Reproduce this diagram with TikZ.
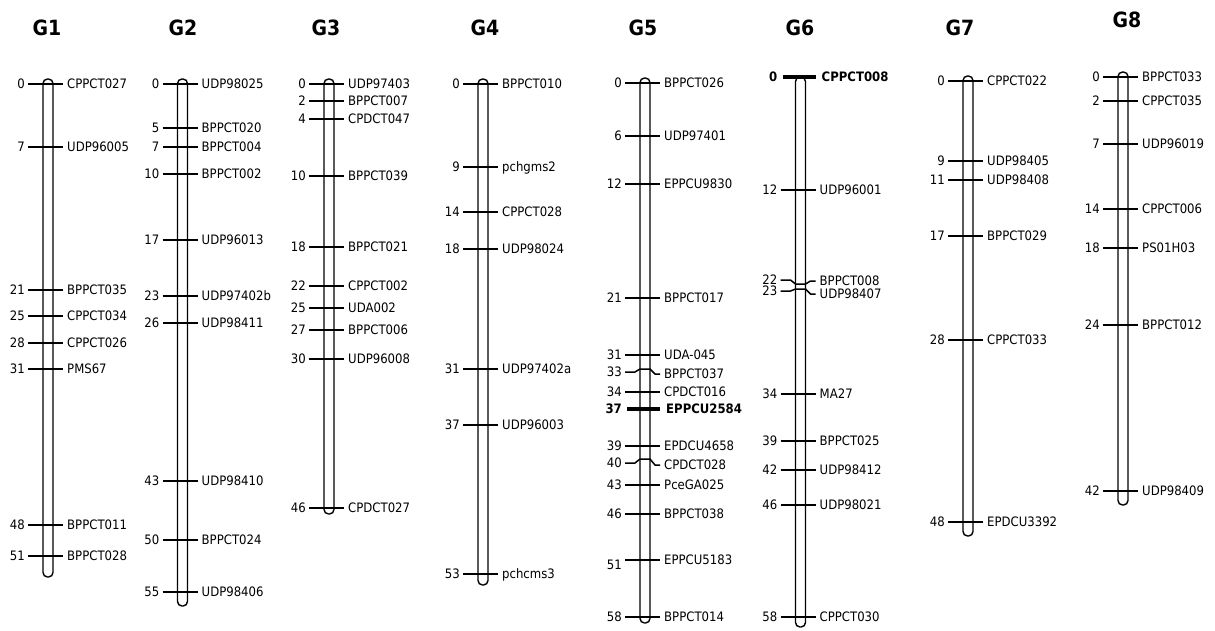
\documentclass[tikz,border=0pt]{standalone}
\usepackage{fontspec}
\setmainfont{DejaVu Sans}[FakeStretch=0.9]
\newcommand\lbl{\fontsize{13}{15}\selectfont}
\newcommand\hdf{\fontsize{21}{24}\selectfont\bfseries}
\tikzset{
  mtick/.style={line width=1.5pt, line join=round},
  btick/.style={line width=4pt},
  chrom/.style={draw, line width=1.4pt, fill=white, rounded corners=4.5pt},
  numl/.style={anchor=base east, inner sep=0pt, font=\lbl},
  mkl/.style={anchor=base west, inner sep=0pt, font=\lbl},
  head/.style={anchor=base, inner sep=0pt, font=\hdf}
}
% #1 centre x, #2 true y, #3 left y, #4 right y, #5 number, #6 name
\newcommand\mk[6]{%
  \draw[mtick] ({#1-20},{#3}) -- ({#1-10},{#3}) -- ({#1-5},{#2}) -- ({#1+5},{#2}) -- ({#1+10},{#4}) -- ({#1+15},{#4});
  \node[numl] (n-#6) at ({#1-23},{#3+4.7}) {#5};
  \node[mkl] (l-#6) at ({#1+19},{#4+4.7}) {#6};
}
\newcommand\mks[4]{\mk{#1}{#2}{#2}{#2}{#3}{#4}}
% straight tick, number text moved down by #5
\newcommand\mkd[5]{%
  \draw[mtick] ({#1-20},{#2}) -- ({#1+15},{#2});
  \node[numl] (n-#4) at ({#1-23},{#2+#5+4.7}) {#3};
  \node[mkl] (l-#4) at ({#1+19},{#2+4.7}) {#4};
}
\newcommand\mkb[4]{%
  \draw[btick] ({#1-18},{#2}) -- ({#1+15},{#2});
  \node[numl,font=\lbl\bfseries] (n-#4) at ({#1-23},{#2+4.7}) {#3};
  \node[mkl,font=\lbl\bfseries] (l-#4) at ({#1+21},{#2+4.7}) {#4};
}
\newcommand\chr[4]{% name, centre, top, bottom
  \draw[chrom] ({#2-5},{#3}) rectangle ({#2+5},{#4});
}
\begin{document}
\begin{tikzpicture}[x=1pt,y=-1pt]
\useasboundingbox[fill=white] (0,0) rectangle (1215,630);
% headings
\node[head] (h1) at (47,35) {G1};
\node[head] (h2) at (183,35) {G2};
\node[head] (h3) at (326,35) {G3};
\node[head] (h4) at (485,35) {G4};
\node[head] (h5) at (643,35) {G5};
\node[head] (h6) at (800,35) {G6};
\node[head] (h7) at (960,35) {G7};
\node[head] (h8) at (1127,27) {G8};
% G1
\chr{G1}{48}{79}{577}
\mks{48}{84}{0}{CPPCT027}
\mks{48}{147}{7}{UDP96005}
\mks{48}{290}{21}{BPPCT035}
\mks{48}{316}{25}{CPPCT034}
\mks{48}{343}{28}{CPPCT026}
\mks{48}{369}{31}{PMS67}
\mks{48}{525}{48}{BPPCT011}
\mks{48}{556}{51}{BPPCT028}
% G2
\chr{G2}{182.5}{79}{606}
\mks{182.5}{84}{0}{UDP98025}
\mks{182.5}{128}{5}{BPPCT020}
\mks{182.5}{147}{7}{BPPCT004}
\mks{182.5}{174}{10}{BPPCT002}
\mks{182.5}{240}{17}{UDP96013}
\mks{182.5}{296}{23}{UDP97402b}
\mks{182.5}{323}{26}{UDP98411}
\mks{182.5}{481}{43}{UDP98410}
\mks{182.5}{540}{50}{BPPCT024}
\mks{182.5}{592}{55}{UDP98406}
% G3
\chr{G3}{329}{79}{514}
\mks{329}{84}{0}{UDP97403}
\mks{329}{101}{2}{BPPCT007}
\mks{329}{119}{4}{CPDCT047}
\mks{329}{176}{10}{BPPCT039}
\mks{329}{247}{18}{BPPCT021}
\mks{329}{286}{22}{CPPCT002}
\mks{329}{308}{25}{UDA002}
\mks{329}{330}{27}{BPPCT006}
\mks{329}{359}{30}{UDP96008}
\mks{329}{508}{46}{CPDCT027}
% G4
\chr{G4}{483}{79}{585}
\mks{483}{84}{0}{BPPCT010}
\mks{483}{167}{9}{pchgms2}
\mks{483}{212}{14}{CPPCT028}
\mks{483}{249}{18}{UDP98024}
\mks{483}{369}{31}{UDP97402a}
\mks{483}{425}{37}{UDP96003}
\mks{483}{574}{53}{pchcms3}
% G5
\chr{G5}{645}{78}{623}
\mks{645}{83}{0}{BPPCT026}
\mks{645}{136}{6}{UDP97401}
\mks{645}{184}{12}{EPPCU9830}
\mks{645}{298}{21}{BPPCT017}
\mks{645}{355}{31}{UDA-045}
\mk{645}{369}{372}{374}{33}{BPPCT037}
\mks{645}{392}{34}{CPDCT016}
\mkb{645}{409}{37}{EPPCU2584}
\mks{645}{446}{39}{EPDCU4658}
\mk{645}{459}{463}{465}{40}{CPDCT028}
\mks{645}{485}{43}{PceGA025}
\mks{645}{514}{46}{BPPCT038}
\mkd{645}{560}{51}{EPPCU5183}{5}
\mks{645}{617}{58}{BPPCT014}
% G6
\chr{G6}{800.5}{77}{627}
\mkb{800.5}{77}{0}{CPPCT008}
\mks{800.5}{190}{12}{UDP96001}
\mk{800.5}{284}{280}{281}{22}{BPPCT008}
\mk{800.5}{289}{291}{294}{23}{UDP98407}
\mks{800.5}{394}{34}{MA27}
\mks{800.5}{441}{39}{BPPCT025}
\mks{800.5}{470}{42}{UDP98412}
\mks{800.5}{505}{46}{UDP98021}
\mks{800.5}{617}{58}{CPPCT030}
% G7
\chr{G7}{968}{76}{536}
\mks{968}{81}{0}{CPPCT022}
\mks{968}{161}{9}{UDP98405}
\mks{968}{180}{11}{UDP98408}
\mks{968}{236}{17}{BPPCT029}
\mks{968}{340}{28}{CPPCT033}
\mks{968}{522}{48}{EPDCU3392}
% G8
\chr{G8}{1123}{72}{505}
\mks{1123}{77}{0}{BPPCT033}
\mks{1123}{101}{2}{CPPCT035}
\mks{1123}{144}{7}{UDP96019}
\mks{1123}{209}{14}{CPPCT006}
\mks{1123}{248}{18}{PS01H03}
\mks{1123}{325}{24}{BPPCT012}
\mks{1123}{491}{42}{UDP98409}
\end{tikzpicture}
\end{document}
